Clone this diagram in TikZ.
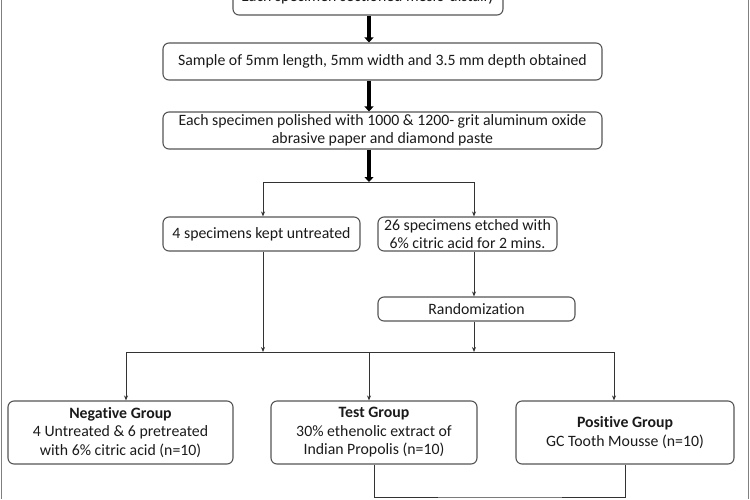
\documentclass[tikz,border=0pt]{standalone}
\usepackage{fontspec}
\setmainfont{Carlito}[Ligatures=NoCommon]
\usetikzlibrary{arrows.meta}
\definecolor{boxline}{HTML}{555555}
\definecolor{txt}{HTML}{1A1A1A}
\begin{document}
\begin{tikzpicture}[x=1pt,y=-1pt,
  box/.style={draw=boxline,line width=1.1pt,rounded corners=6pt,align=center,
    inner sep=1pt,text=txt,font=\fontsize{15.8}{18.5}\selectfont},
  thick arrow/.style={line width=3.6pt,-{Triangle[width=9pt,length=5pt]}},
  thin arrow/.style={draw=black!80,line width=1pt,-{Stealth[length=5pt,width=4pt]}},
  thin line/.style={draw=black!80,line width=1pt}]
\useasboundingbox (0,0) rectangle (750,499);
\clip (0,0) rectangle (750,499);
\draw[draw=gray,line width=1.5pt] (1.5,0) -- (1.5,499);
\draw[draw=gray,line width=1.5pt] (748.5,0) -- (748.5,499);

\node[box,minimum width=270pt,minimum height=36pt] (b1) at (368,-3) {Each specimen sectioned mesio-distally};
\node[box,minimum width=439pt,minimum height=37pt] (b2) at (382.5,61.5) {Sample of 5mm length, 5mm width and 3.5 mm depth obtained};
\node[box,minimum width=439pt,minimum height=37pt] (b3) at (382.5,130.5) {Each specimen polished with 1000 \& 1200- grit aluminum oxide\\abrasive paper and diamond paste};
\node[box,minimum width=197pt,minimum height=34pt] (b4l) at (261.5,234) {4 specimens kept untreated};
\node[box,minimum width=179pt,minimum height=34pt] (b4r) at (467.5,234) {26 specimens etched with\\6\% citric acid for 2 mins.};
\node[box,minimum width=197pt,minimum height=24pt] (rand) at (476.5,309) {Randomization};
\node[box,minimum width=225pt,minimum height=63pt] (neg) at (120.5,432.5) {\textbf{Negative Group}\\4 Untreated \& 6 pretreated\\with 6\% citric acid (n=10)};
\node[box,minimum width=206pt,minimum height=63pt] (test) at (374,432.5) {\textbf{Test Group}\\30\% ethenolic extract of\\Indian Propolis (n=10)};
\node[box,minimum width=218pt,minimum height=63pt] (pos) at (625,432.5) {\textbf{Positive Group}\\GC Tooth Mousse (n=10)};

\coordinate (split) at (369,182);
\coordinate (merge) at (369,352);
\coordinate (bot) at (500,497);

\draw[thick arrow] (b1.south -| split) -- (b2.north -| split);
\draw[thick arrow] (b2.south -| split) -- (b3.north -| split);
\draw[thick arrow] (b3.south -| split) -- (split);

\draw[thin line] (263,182) -- (474,182);
\draw[thin arrow] (263,182) -- (263,0 |- b4l.north);
\draw[thin arrow] (474,182) -- (474,0 |- b4r.north);
\draw[thin arrow] (474,0 |- b4r.south) -- (474,0 |- rand.north);

\draw[thin line] (126,352) -- (614,352);
\draw[thin arrow] (263,0 |- b4l.south) -- (263,352);
\draw[thin arrow] (474,0 |- rand.south) -- (474,352);
\draw[thin arrow] (126,352) -- (126,0 |- neg.north);
\draw[thin arrow] (merge) -- (merge |- test.north);
\draw[thin arrow] (614,352) -- (614,0 |- pos.north);

\draw[thin line] (test.south) |- (bot) -| (pos.south);
\end{tikzpicture}
\end{document}
